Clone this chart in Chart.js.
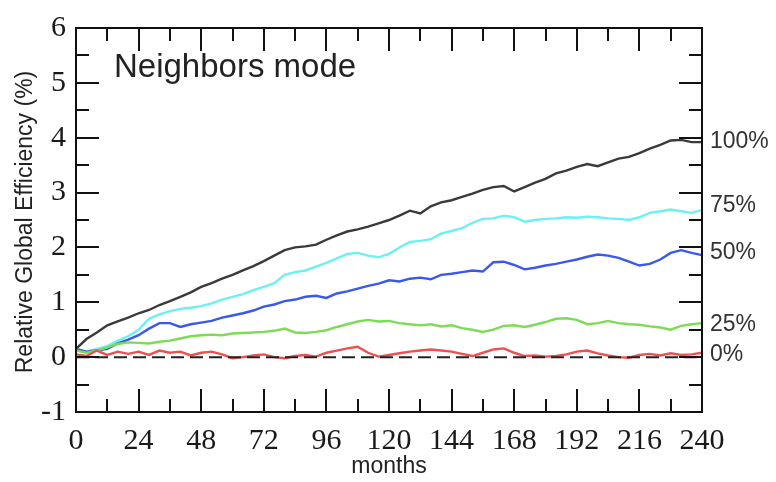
<!DOCTYPE html>
<html>
<head>
<meta charset="utf-8">
<title>Neighbors mode</title>
<script src="https://cdn.jsdelivr.net/npm/chart.js@4.4.1/dist/chart.umd.min.js"></script>
<style>
  html, body { margin: 0; padding: 0; background: #fff; }
  #wrap { width: 776px; height: 482px; }
</style>
</head>
<body>
<div id="wrap"><canvas id="chart" width="776" height="482"></canvas></div>
<script>
// months sampled every 4
const months = [0, 4, 8, 12, 16, 20, 24, 28, 32, 36, 40, 44, 48, 52, 56, 60, 64, 68, 72, 76,
  80, 84, 88, 92, 96, 100, 104, 108, 112, 116, 120, 124, 128, 132, 136, 140, 144, 148, 152, 156,
  160, 164, 168, 172, 176, 180, 184, 188, 192, 196, 200, 204, 208, 212, 216, 220, 224, 228, 232, 236, 240];

const eff100 = [0.15, 0.33, 0.45, 0.58, 0.65, 0.72, 0.80, 0.86, 0.95, 1.02, 1.10, 1.18, 1.28, 1.35, 1.43, 1.50, 1.58, 1.66, 1.75, 1.85,
  1.95, 2.00, 2.02, 2.05, 2.14, 2.22, 2.29, 2.33, 2.38, 2.44, 2.50, 2.58, 2.67, 2.62, 2.75, 2.82, 2.86, 2.92, 2.98, 3.05,
  3.10, 3.12, 3.02, 3.10, 3.18, 3.25, 3.35, 3.40, 3.47, 3.52, 3.48, 3.55, 3.62, 3.65, 3.72, 3.80, 3.87, 3.95, 3.96, 3.92, 3.92];
const eff75 = [0.12, 0.10, 0.15, 0.20, 0.30, 0.38, 0.50, 0.70, 0.78, 0.84, 0.88, 0.90, 0.93, 0.98, 1.05, 1.10, 1.15, 1.22, 1.28, 1.35,
  1.50, 1.55, 1.58, 1.65, 1.72, 1.80, 1.88, 1.90, 1.85, 1.82, 1.88, 2.00, 2.10, 2.12, 2.15, 2.25, 2.30, 2.35, 2.45, 2.52,
  2.53, 2.58, 2.55, 2.47, 2.50, 2.52, 2.53, 2.55, 2.54, 2.56, 2.55, 2.53, 2.52, 2.50, 2.55, 2.63, 2.66, 2.69, 2.66, 2.63, 2.68];
const eff50 = [0.15, 0.10, 0.12, 0.15, 0.25, 0.32, 0.40, 0.52, 0.62, 0.62, 0.55, 0.60, 0.63, 0.66, 0.72, 0.76, 0.80, 0.85, 0.92, 0.96,
  1.02, 1.05, 1.10, 1.12, 1.08, 1.16, 1.20, 1.25, 1.30, 1.34, 1.40, 1.38, 1.43, 1.45, 1.42, 1.50, 1.52, 1.55, 1.58, 1.56,
  1.73, 1.74, 1.68, 1.60, 1.63, 1.67, 1.70, 1.74, 1.78, 1.83, 1.87, 1.85, 1.81, 1.74, 1.67, 1.70, 1.78, 1.90, 1.95, 1.90, 1.86];
const eff25 = [0.12, 0.08, 0.12, 0.18, 0.24, 0.27, 0.26, 0.25, 0.28, 0.30, 0.34, 0.38, 0.40, 0.41, 0.40, 0.43, 0.44, 0.45, 0.46, 0.48,
  0.52, 0.45, 0.44, 0.46, 0.49, 0.55, 0.60, 0.65, 0.68, 0.65, 0.66, 0.62, 0.60, 0.58, 0.60, 0.56, 0.58, 0.53, 0.50, 0.46,
  0.50, 0.57, 0.58, 0.55, 0.59, 0.64, 0.70, 0.71, 0.68, 0.60, 0.62, 0.66, 0.62, 0.60, 0.59, 0.56, 0.54, 0.50, 0.57, 0.60, 0.62];
const eff0 = [0.05, 0.02, 0.12, 0.04, 0.10, 0.06, 0.10, 0.04, 0.12, 0.08, 0.10, 0.03, 0.08, 0.10, 0.05, -0.02, 0.00, 0.03, 0.05, 0.00,
  -0.02, 0.02, 0.04, 0.01, 0.08, 0.12, 0.16, 0.19, 0.08, 0.01, 0.04, 0.07, 0.10, 0.12, 0.14, 0.12, 0.10, 0.06, 0.02, 0.08,
  0.14, 0.16, 0.08, 0.02, 0.03, 0.01, 0.02, 0.05, 0.10, 0.12, 0.07, 0.03, 0.00, -0.01, 0.04, 0.06, 0.03, 0.07, 0.04, 0.05, 0.08];

const baselineX = [0, 240];
const baselineY = [0, 0];

const seriesLabels = ['100%', '75%', '50%', '25%', '0%'];
const seriesData = [eff100, eff75, eff50, eff25, eff0];
const seriesColors = ['#3a3a3a', '#6cf0f2', '#3b58ee', '#7ddc55', '#ee5050'];
const labelValues = [3.92, 2.76, 1.91, 0.6, 0.05];

const xTicks = [0, 24, 48, 72, 96, 120, 144, 168, 192, 216, 240];
const yTicks = [-1, 0, 1, 2, 3, 4, 5, 6];

function toPoints(xs, ys) {
  return xs.map((x, i) => ({ x: x, y: ys[i] }));
}

// frame, inward ticks on all four sides, titles and end labels
const decorPlugin = {
  id: 'decor',
  afterDatasetsDraw(chart) {
    const ctx = chart.ctx;
    const a = chart.chartArea;
    const xs = chart.scales.x;
    const ys = chart.scales.y;
    const major = 23, minor = 13;
    ctx.save();
    ctx.strokeStyle = '#111';
    ctx.lineWidth = 2;
    ctx.strokeRect(a.left, a.top, a.right - a.left, a.bottom - a.top);

    ctx.beginPath();
    for (let m = 0; m <= 240; m += 12) {
      const px = Math.round(xs.getPixelForValue(m));
      const len = m % 24 === 0 ? major : minor;
      ctx.moveTo(px, a.bottom); ctx.lineTo(px, a.bottom - len);
      ctx.moveTo(px, a.top); ctx.lineTo(px, a.top + len);
    }
    for (let v = -1; v <= 6; v += 0.5) {
      const py = Math.round(ys.getPixelForValue(v));
      const len = Number.isInteger(v) ? major : minor;
      ctx.moveTo(a.left, py); ctx.lineTo(a.left + len, py);
      ctx.moveTo(a.right, py); ctx.lineTo(a.right - len, py);
    }
    ctx.stroke();

    // chart title inside the plot
    ctx.fillStyle = '#222';
    ctx.font = '33px "Liberation Sans", Arial, sans-serif';
    ctx.textAlign = 'left';
    ctx.textBaseline = 'alphabetic';
    ctx.fillText('Neighbors mode', 114, 77);

    // axis titles
    ctx.font = '23px "Liberation Sans", Arial, sans-serif';
    ctx.textAlign = 'center';
    ctx.textBaseline = 'middle';
    ctx.fillText('months', (a.left + a.right) / 2, 467);
    ctx.save();
    ctx.translate(26, 222);
    ctx.rotate(-Math.PI / 2);
    ctx.fillText('Relative Global Efficiency (%)', 0, 0);
    ctx.restore();

    // end-of-line labels
    ctx.font = '23px "Liberation Sans", Arial, sans-serif';
    ctx.textAlign = 'left';
    ctx.fillStyle = '#333';
    seriesLabels.forEach((lab, i) => {
      ctx.fillText(lab, a.right + 8, ys.getPixelForValue(labelValues[i]));
    });
    ctx.restore();
  }
};

const datasets = seriesData.map((d, i) => ({
  label: seriesLabels[i],
  data: toPoints(months, d),
  borderColor: seriesColors[i],
  borderWidth: 2.4,
  pointRadius: 0,
  tension: 0,
  order: 5 - i
}));
datasets.push({
  label: 'baseline',
  data: toPoints(baselineX, baselineY),
  borderColor: '#222',
  borderWidth: 2,
  borderDash: [13, 6],
  pointRadius: 0,
  order: 0
});

new Chart(document.getElementById('chart'), {
  type: 'line',
  data: { datasets: datasets },
  options: {
    responsive: false,
    animation: false,
    layout: { padding: { top: 18, right: 74, left: 0, bottom: 0 } },
    plugins: { legend: { display: false }, tooltip: { enabled: false } },
    scales: {
      x: {
        type: 'linear',
        min: 0,
        max: 240,
        afterBuildTicks: (scale) => { scale.ticks = xTicks.map(v => ({ value: v })); },
        afterFit: (scale) => { scale.height = 70; },
        grid: { display: false, drawTicks: false },
        border: { display: false },
        ticks: {
          color: '#1a1a1a',
          padding: 11,
          maxRotation: 0,
          autoSkip: false,
          font: { family: '"Liberation Serif", "Times New Roman", serif', size: 30 }
        }
      },
      y: {
        min: -1,
        max: 6,
        afterBuildTicks: (scale) => { scale.ticks = yTicks.map(v => ({ value: v })); },
        afterFit: (scale) => { scale.width = 76; },
        grid: { display: false, drawTicks: false },
        border: { display: false },
        ticks: {
          color: '#1a1a1a',
          padding: 10,
          autoSkip: false,
          font: { family: '"Liberation Serif", "Times New Roman", serif', size: 30 }
        }
      }
    }
  },
  plugins: [decorPlugin]
});
</script>
</body>
</html>
